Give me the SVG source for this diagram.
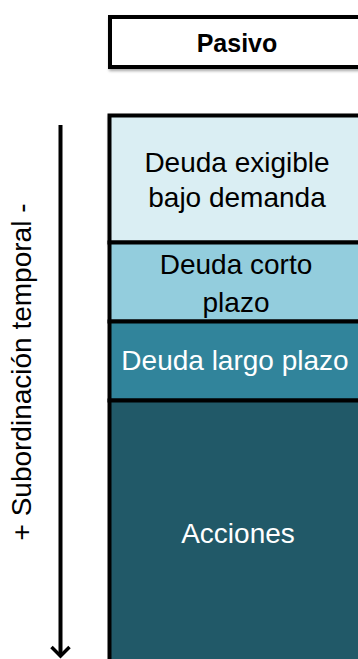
<svg xmlns="http://www.w3.org/2000/svg" width="358" height="659" viewBox="0 0 358 659">
<style>
  .lbl { font-family: "Liberation Sans", Arial, sans-serif; font-size: 28px; text-anchor: middle; }
  .dark { fill: #000000; }
  .light { fill: #ffffff; }
  .box { stroke: #000000; stroke-width: 4; }
</style>
<defs>
  <filter id="sh" x="-10%" y="-10%" width="130%" height="130%">
    <feGaussianBlur in="SourceAlpha" stdDeviation="1.5"/>
    <feOffset dx="1" dy="2" result="b"/>
    <feComponentTransfer><feFuncA type="linear" slope="0.35"/></feComponentTransfer>
    <feMerge><feMergeNode/><feMergeNode in="SourceGraphic"/></feMerge>
  </filter>
  <marker id="arr" markerWidth="16" markerHeight="24" viewBox="-3 -12 16 24" refX="9" refY="0" orient="auto" markerUnits="userSpaceOnUse">
    <path d="M0,-9 L9,0 L0,9" fill="none" stroke="#000" stroke-width="3.5"/>
  </marker>
</defs>
<rect width="358" height="659" fill="#ffffff"/>

<g id="pasivo">
  <rect x="110" y="17" width="252" height="50" fill="#ffffff" class="box" filter="url(#sh)"/>
  <text x="237" y="52" class="lbl dark" style="font-weight:bold;font-size:25px">Pasivo</text>
</g>

<g id="deuda-exigible">
  <rect x="109.5" y="115.5" width="253" height="127" fill="#DAEEF3" class="box" filter="url(#sh)"/>
  <text x="237" y="172" class="lbl dark">Deuda exigible</text>
  <text x="237" y="207" class="lbl dark">bajo demanda</text>
</g>

<g id="deuda-corto">
  <rect x="109.5" y="242.5" width="253" height="79" fill="#93CDDD" class="box"/>
  <text x="236" y="274" class="lbl dark">Deuda corto</text>
  <text x="236" y="312" class="lbl dark">plazo</text>
</g>

<g id="deuda-largo">
  <rect x="109.5" y="321.5" width="253" height="79" fill="#31849B" class="box"/>
  <text x="235" y="370" class="lbl light">Deuda largo plazo</text>
</g>

<g id="acciones">
  <rect x="109.5" y="400.5" width="253" height="280" fill="#215968" class="box"/>
  <text x="238" y="543" class="lbl light">Acciones</text>
</g>

<g id="connectors">
  <line x1="60.5" y1="125" x2="60.5" y2="656" stroke="#000" stroke-width="4" marker-end="url(#arr)"/>
</g>

<g id="axis-label">
  <text transform="translate(31,372) rotate(-90)" x="0" y="0" class="lbl dark" style="font-size:28px">+ Subordinación temporal -</text>
</g>
</svg>
